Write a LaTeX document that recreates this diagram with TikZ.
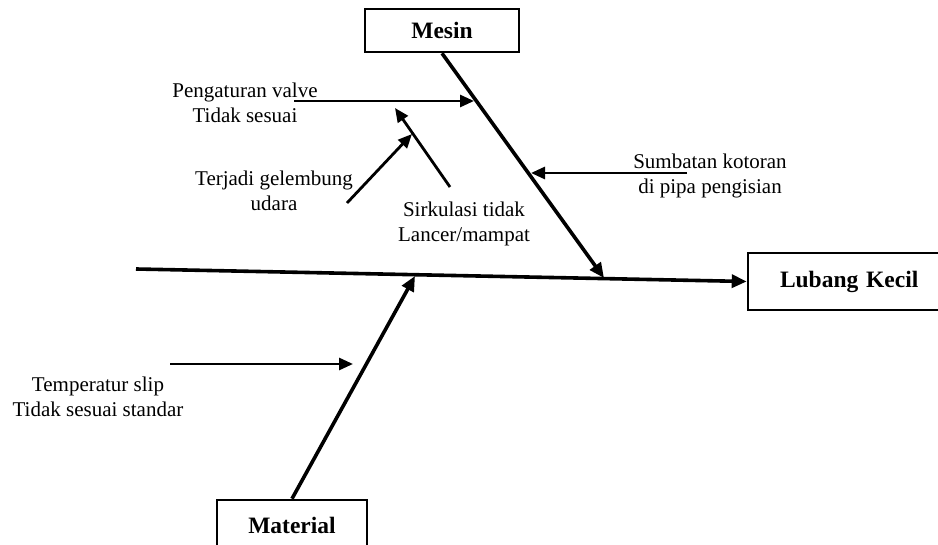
\documentclass[tikz,border=0pt]{standalone}
\usepackage{fontspec}
\setmainfont{Liberation Serif}
\usetikzlibrary{arrows.meta}
\tikzset{
  causebox/.style={draw, line width=2.6pt, inner sep=0pt, font=\fontsize{23.5}{27}\selectfont\bfseries},
  bone/.style={line width=3.6pt, -{Triangle[length=15pt,width=13pt]}},
  twig/.style={line width=2.8pt, -{Triangle[length=14pt,width=12pt]}},
  note/.style={align=center, inner sep=0pt, font=\fontsize{21}{25.5}\selectfont}
}
\begin{document}
\begin{tikzpicture}[x=1pt,y=-1pt]
\useasboundingbox (0,0) rectangle (938,545);
\clip (0,0) rectangle (938,545);

% category and effect boxes
\node[causebox, minimum width=154pt, minimum height=43pt] (mesin) at (442,30.5) {Mesin};
\node[causebox, minimum width=206pt, minimum height=57pt, text width=200pt, align=left] (lubang) at (851,281.5) {\hspace{29pt}Lubang Kecil};
\node[causebox, minimum width=150pt, minimum height=80pt, text depth=0pt, text height=0pt] (material) at (292,540) {};
\node[font=\fontsize{23.5}{27}\selectfont\bfseries, anchor=base] (materialtxt) at (292,533) {Material};

% spine and main bones
\coordinate (tail) at (136,269);
\coordinate (mjoin) at (604,278);
\coordinate (bjoin) at (415,276);
\draw[bone] (tail) -- (lubang.west);
\draw[bone] (mesin.south) -- (mjoin);
\draw[bone] (material.north) -- (bjoin);

% cause texts
\node[note] (peng) at (245,103) {Pengaturan valve\\Tidak sesuai};
\node[note] (terj) at (274,191) {Terjadi gelembung\\udara};
\node[note] (sirk) at (464,224) {Sirkulasi tidak\\Lancer/mampat};
\node[note] (sumb) at (710,176) {Sumbatan kotoran\\di pipa pengisian};
\node[note] (temp) at (98,397) {Temperatur slip\\Tidak sesuai standar};

% cause arrows
\coordinate (pA) at (294,101);  \coordinate (pB) at (474,101);
\coordinate (tA) at (347,203);  \coordinate (tB) at (412,134);
\coordinate (sA) at (450,187);  \coordinate (sB) at (395,108);
\coordinate (uA) at (687,173);  \coordinate (uB) at (531,173);
\coordinate (mA) at (170,364);  \coordinate (mB) at (353,364);
\draw[twig] (pA) -- (pB);
\draw[twig] (tA) -- (tB);
\draw[twig] (sA) -- (sB);
\draw[twig] (uA) -- (uB);
\draw[twig] (mA) -- (mB);
\end{tikzpicture}
\end{document}
